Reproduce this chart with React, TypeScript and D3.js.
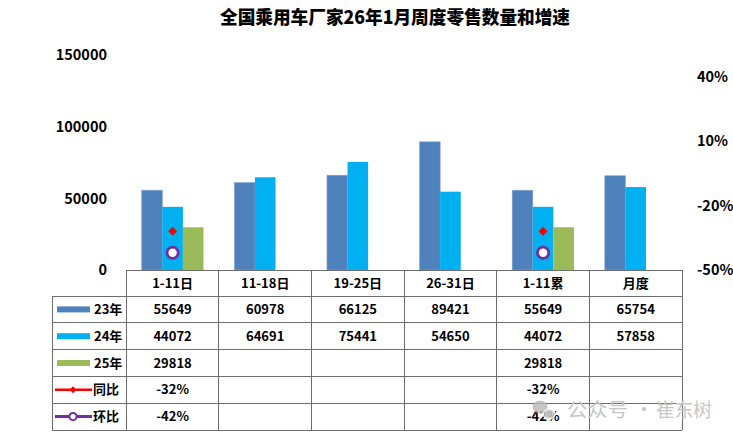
import React from 'react';
import * as d3 from 'd3';

const title = '全国乘用车厂家26年1月周度零售数量和增速';
const categories = ['1-11日', '11-18日', '19-25日', '26-31日', '1-11累', '月度'];
const seriesNames = ['23年', '24年', '25年'];
const s23 = [55649, 60978, 66125, 89421, 55649, 65754];
const s24 = [44072, 64691, 75441, 54650, 44072, 57858];
const s25: (number | null)[] = [29818, null, null, null, 29818, null];
const yoy: (number | null)[] = [-0.32, null, null, null, -0.32, null];
const mom: (number | null)[] = [-0.42, null, null, null, -0.42, null];
const leftTicks = [0, 50000, 100000, 150000];
const rightTicks = [-0.5, -0.2, 0.1, 0.4];

const W = 733, H = 438;
const FONT = '"Noto Sans CJK SC", "Noto Sans", sans-serif';
const C23 = '#4F81BD', C24 = '#00B0F0', C25 = '#9BBB59', CRED = '#FF0000', CPUR = '#7030A0';
const GRID = '#6d6d6d';

export default function App() {
  const plotTop = 55, plotBottom = 270;
  const x0 = 126.3, x1 = 682;
  const x = d3.scaleBand<string>().domain(categories).range([x0, x1]).padding(0);
  const bw = x.bandwidth();
  const xs = d3.scaleBand<string>().domain(seriesNames).range([0, bw]).paddingInner(0).paddingOuter(0.75);
  const y = d3.scaleLinear().domain([0, 150000]).range([plotBottom, plotTop]);
  const yr = d3.scaleLinear().domain([-0.5, 0.5]).range([plotBottom, plotTop]);

  const seriesData = [s23, s24, s25];
  const colors = [C23, C24, C25];

  const rowTop = 296;
  const rowH = 26.8;
  const nRows = 5;
  const tableBottom = rowTop + rowH * nRows;
  const legX0 = 52;

  const fmtPct = (v: number) => `${Math.round(v * 100)}%`;

  const rows: { key: string; vals: (number | null)[]; pct?: boolean }[] = [
    { key: '23年', vals: s23 },
    { key: '24年', vals: s24 },
    { key: '25年', vals: s25 },
    { key: '同比', vals: yoy, pct: true },
    { key: '环比', vals: mom, pct: true },
  ];

  const diamond = (cx: number, cy: number, r: number) =>
    `M${cx},${cy - r}L${cx + r},${cy}L${cx},${cy + r}L${cx - r},${cy}Z`;

  return (
    <svg width={W} height={H} style={{ position: 'absolute', left: 0, top: 0, background: '#fff' }} fontFamily={FONT}>
      <rect x={0} y={0} width={W} height={H} fill="#fff" />
      <text x={220} y={24} textAnchor="start" fontSize={18.5} fontWeight={900} fill="#000" textLength={350} lengthAdjust="spacingAndGlyphs">{title}</text>

      {/* left axis labels */}
      {leftTicks.map(t => (
        <text key={t} x={107} y={y(t)} dy="0.36em" textAnchor="end" fontSize={14.5} fontWeight={700} fill="#000">{t}</text>
      ))}
      {/* right axis labels */}
      {rightTicks.map(t => (
        <text key={t} x={697} y={yr(t)} dy="0.36em" textAnchor="start" fontSize={14.5} fontWeight={700} fill="#000">{fmtPct(t)}</text>
      ))}

      {/* bars */}
      {seriesData.map((sd, si) => (
        <g key={si}>
          {categories.map((c, ci) => {
            const v = sd[ci];
            if (v == null) return null;
            const bx = (x(c) as number) + (xs(seriesNames[si]) as number);
            return <rect key={c} x={bx} y={y(v)} width={xs.bandwidth()} height={plotBottom - y(v)} fill={colors[si]} stroke={si === 0 ? '#7fa3cf' : 'none'} strokeWidth={0.6} />;
          })}
        </g>
      ))}

      {/* line markers */}
      {categories.map((c, ci) => {
        const cx = (x(c) as number) + bw / 2;
        const a = yoy[ci];
        const b = mom[ci];
        return (
          <g key={c}>
            {a != null && <path d={diamond(cx, yr(a), 4.5)} fill={CRED} />}
            {b != null && <circle cx={cx} cy={yr(b)} r={5.6} fill="#fff" stroke={CPUR} strokeWidth={2.8} />}
          </g>
        );
      })}

      {/* table */}
      <g stroke={GRID} strokeWidth={1} fill="none" shapeRendering="crispEdges">
        <line x1={x0} x2={x1} y1={plotBottom} y2={plotBottom} />
        {d3.range(nRows + 1).map(i => (
          <line key={i} x1={legX0} x2={x1} y1={rowTop + i * rowH} y2={rowTop + i * rowH} />
        ))}
        <line x1={legX0} x2={legX0} y1={rowTop} y2={tableBottom} />
        {categories.map(c => (
          <line key={c} x1={x(c) as number} x2={x(c) as number} y1={plotBottom} y2={tableBottom} />
        ))}
        <line x1={x1} x2={x1} y1={plotBottom} y2={tableBottom} />
      </g>

      {/* header */}
      {categories.map(c => (
        <text key={c} x={(x(c) as number) + bw / 2} y={(plotBottom + rowTop) / 2} dy="0.36em" textAnchor="middle" fontSize={13} fontWeight={700} fill="#000">{c}</text>
      ))}

      {/* rows */}
      {rows.map((r, ri) => {
        const cy = rowTop + ri * rowH + rowH / 2;
        let key: React.ReactNode;
        if (ri < 3) {
          key = <rect x={57} y={cy - 3} width={33} height={6} fill={colors[ri]} />;
        } else if (ri === 3) {
          key = (
            <g>
              <line x1={55} x2={92} y1={cy} y2={cy} stroke={CRED} strokeWidth={2.6} />
              <path d={diamond(73, cy, 3.5)} fill={CRED} />
            </g>
          );
        } else {
          key = (
            <g>
              <line x1={55} x2={92} y1={cy} y2={cy} stroke={CPUR} strokeWidth={3} />
              <circle cx={73} cy={cy} r={3.6} fill="#fff" stroke={CPUR} strokeWidth={2} />
            </g>
          );
        }
        return (
          <g key={r.key}>
            {key}
            <text x={ri < 3 ? 94 : 93} y={cy} dy="0.36em" fontSize={13} fontWeight={700} fill="#000">{r.key}</text>
            {r.vals.map((v, ci) => v == null ? null : (
              <text key={ci} x={(x(categories[ci]) as number) + bw / 2} y={cy} dy="0.36em" textAnchor="middle" fontSize={13} fontWeight={700} fill="#000">
                {r.pct ? fmtPct(v) : v}
              </text>
            ))}
          </g>
        );
      })}

      {/* watermark */}
      <g>
        <ellipse cx={540} cy={407} rx={7.5} ry={6.5} fill="#b8b8b8" opacity={0.8} />
        <ellipse cx={549} cy={414} rx={6} ry={5} fill="#c8c8c8" stroke="#fff" strokeWidth={1.2} opacity={0.85} />
        <g fill="#c6c6c6" fontSize={19.5}>
          <text x={567} y={410} dy="0.36em" textLength={61} lengthAdjust="spacingAndGlyphs">公众号</text>
          <text x={644} y={410} dy="0.36em" textAnchor="middle">·</text>
          <text x={656} y={410} dy="0.36em" textLength={56} lengthAdjust="spacingAndGlyphs">崔东树</text>
        </g>
      </g>
    </svg>
  );
}
